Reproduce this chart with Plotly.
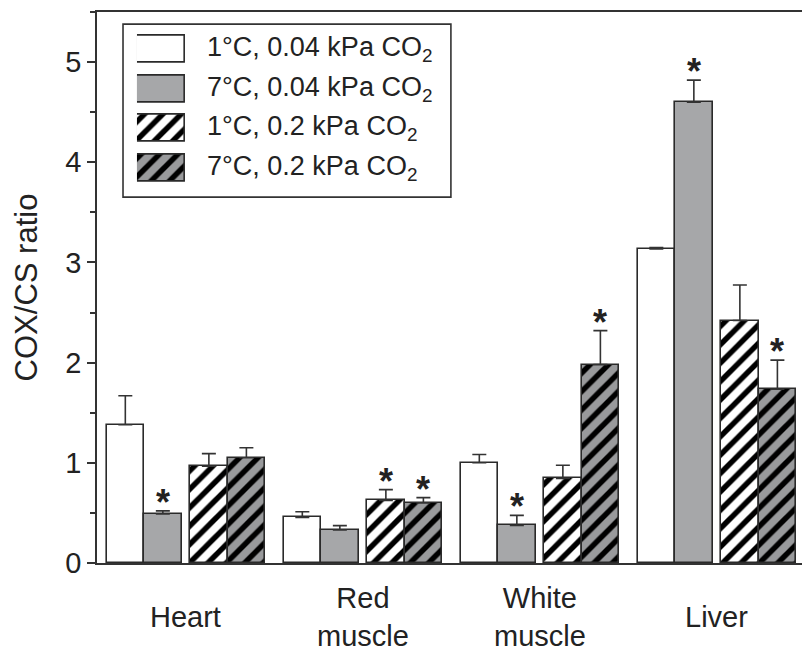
import plotly.graph_objects as go

# ---------------- data ----------------
categories = ["Heart", "Red<br>muscle", "White<br>muscle", "Liver"]
series_names = [
    "1°C, 0.04 kPa CO<sub>2</sub>",
    "7°C, 0.04 kPa CO<sub>2</sub>",
    "1°C, 0.2 kPa CO<sub>2</sub>",
    "7°C, 0.2 kPa CO<sub>2</sub>",
]
mean_1c_004 = [1.38, 0.455, 1.00, 3.135]
mean_7c_004 = [0.49, 0.33, 0.375, 4.60]
mean_1c_02 = [0.965, 0.625, 0.845, 2.42]
mean_7c_02 = [1.05, 0.60, 1.98, 1.735]
sem_1c_004 = [0.29, 0.057, 0.083, 0.015]
sem_7c_004 = [0.03, 0.043, 0.10, 0.22]
sem_1c_02 = [0.127, 0.107, 0.13, 0.355]
sem_7c_02 = [0.10, 0.053, 0.34, 0.29]
sig_1c_004 = [False, False, False, False]
sig_7c_004 = [True, False, True, True]
sig_1c_02 = [False, True, False, False]
sig_7c_02 = [False, True, True, True]

means = [mean_1c_004, mean_7c_004, mean_1c_02, mean_7c_02]
sems = [sem_1c_004, sem_7c_004, sem_1c_02, sem_7c_02]
sigs = [sig_1c_004, sig_7c_004, sig_1c_02, sig_7c_02]

# ---------------- style ----------------
GRAY = "#a6a7a9"
HGRAY = "#999a9c"
EDGE = "#2a2a2a"
TXT = "#222222"
FONT = "Liberation Sans, Arial, sans-serif"
BAR_W = 0.212
OFFSETS = [-0.448, -0.236, 0.024, 0.236]
HATCH = dict(shape="/", fgcolor="#000000", fgopacity=1, size=13, solidity=0.42, fillmode="replace")
styles = [
    dict(color="white", pattern=None),
    dict(color=GRAY, pattern=None),
    dict(color="white", pattern=dict(HATCH, bgcolor="white")),
    dict(color=HGRAY, pattern=dict(HATCH, bgcolor=HGRAY)),
]

fig = go.Figure()
for s in range(4):
    marker = dict(color=styles[s]["color"], line=dict(color=EDGE, width=1.6))
    if styles[s]["pattern"]:
        marker["pattern"] = styles[s]["pattern"]
    fig.add_trace(go.Bar(
        x=categories, y=means[s], name=series_names[s],
        width=BAR_W, offset=OFFSETS[s],
        marker=marker,
        error_y=dict(type="data", array=sems[s], arrayminus=[0] * 4, symmetric=False,
                     color="#333333", thickness=1.6, width=7),
        showlegend=False,
    ))
    # significance stars
    for i in range(4):
        if sigs[s][i]:
            fig.add_annotation(
                x=i + OFFSETS[s] + BAR_W / 2, y=means[s][i] + sems[s][i],
                xref="x", yref="y", text="<b>*</b>", showarrow=False,
                yanchor="bottom", yshift=-14,
                font=dict(size=36, color=TXT, family=FONT),
            )

# category labels (vertically centered, like the reference)
for i, c in enumerate(categories):
    fig.add_annotation(x=i, y=-0.098, xref="x", yref="paper", text=c, showarrow=False,
                       yanchor="middle", xanchor="center",
                       font=dict(size=29, color=TXT, family=FONT))

# ---------------- legend (inset swatches) ----------------
for s in range(4):
    marker = dict(color=styles[s]["color"], line=dict(color=EDGE, width=1.6))
    if styles[s]["pattern"]:
        marker["pattern"] = styles[s]["pattern"]
    fig.add_trace(go.Bar(
        x=[1], y=[s], orientation="h", width=0.684, marker=marker,
        xaxis="x2", yaxis="y2", showlegend=False, hoverinfo="skip",
    ))

leg_y0, leg_y1 = 0.681, 0.968
for s in range(4):
    yc = leg_y1 - (s + 0.5) * (leg_y1 - leg_y0) / 4
    fig.add_annotation(x=0.153, y=yc, xref="paper", yref="paper", text=series_names[s],
                       showarrow=False, xanchor="left", yanchor="middle",
                       font=dict(size=27, color=TXT, family=FONT))

fig.add_shape(type="rect", xref="paper", yref="paper", x0=0.0369, x1=0.502, y0=0.664, y1=0.978,
              line=dict(color="#333333", width=1.6), fillcolor="rgba(0,0,0,0)")

fig.update_layout(
    width=802, height=653,
    margin=dict(l=97, r=0, t=12, b=90),
    paper_bgcolor="white", plot_bgcolor="white",
    barmode="overlay", bargap=0,
    font=dict(family=FONT, size=29, color=TXT),
    xaxis=dict(range=[-0.502, 3.481], showticklabels=False, ticks="", showgrid=False,
               showline=True, linecolor="#333333", linewidth=1.6, mirror=True, zeroline=False,
               automargin=False),
    yaxis=dict(range=[0, 5.5], tickvals=[0, 1, 2, 3, 4, 5], ticks="outside", ticklen=8,
               tickcolor="#333333", tickwidth=1.6, showgrid=False, zeroline=False,
               showline=True, linecolor="#333333", linewidth=1.6, automargin=False,
               minor=dict(dtick=0.5, ticks="outside", ticklen=5, tickcolor="#333333", tickwidth=1.6),
               tickfont=dict(size=29, color=TXT),
               title=dict(text="COX/CS ratio", font=dict(size=31, color=TXT), standoff=18)),
    xaxis2=dict(domain=[0.0567, 0.1248], range=[0, 1], visible=False, anchor="y2"),
    yaxis2=dict(domain=[leg_y0, leg_y1], range=[3.5, -0.5], visible=False, anchor="x2"),
)

fig.write_html("out.html", config={"displayModeBar": False},
               post_script="document.body.style.margin='0px';")
